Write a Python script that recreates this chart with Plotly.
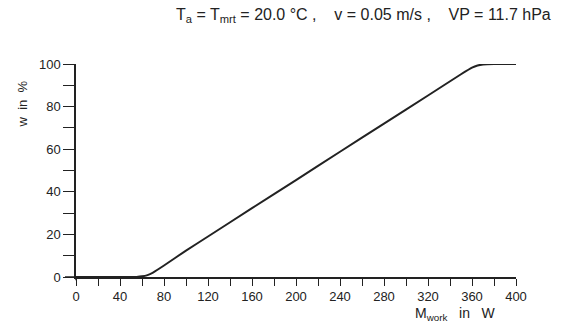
import plotly.graph_objects as go

m_work = [0, 20, 40, 55, 60, 65, 70, 80, 100, 120, 160, 200, 240, 280, 320, 350, 360, 365, 370, 380, 400]
w_pct = [0, 0, 0, 0.05, 0.3, 0.9, 2.1, 5.4, 12.4, 19.0, 32.3, 45.5, 58.8, 72.0, 85.2, 95.2, 98.3, 99.3, 99.8, 100, 100]

x_ticks = [0, 40, 80, 120, 160, 200, 240, 280, 320, 360, 400]
y_ticks = [0, 20, 40, 60, 80, 100]

fig = go.Figure()
fig.add_trace(go.Scatter(x=m_work, y=w_pct, mode="lines",
                         line=dict(color="#222222", width=2, shape="spline", smoothing=0.4),
                         showlegend=False, hoverinfo="skip"))

font = dict(family="Liberation Sans, DejaVu Sans, sans-serif", color="#222222")

fig.update_layout(
    width=564, height=324,
    margin=dict(l=76, r=48, t=64, b=47),
    plot_bgcolor="white", paper_bgcolor="white",
    font=dict(**font, size=13),
    xaxis=dict(range=[0, 400], tickvals=x_ticks, ticktext=[str(v) for v in x_ticks],
               showgrid=False, zeroline=False, showline=True, linecolor="#222222", linewidth=1.5,
               ticks="outside", ticklen=7, tickwidth=1.2, tickcolor="#222222",
               minor=dict(dtick=20, tick0=0, ticks="outside", ticklen=7, tickwidth=1.2, tickcolor="#222222"),
               tickfont=dict(size=13)),
    yaxis=dict(range=[0, 100], tickvals=y_ticks, ticktext=[str(v) for v in y_ticks],
               showgrid=False, zeroline=False, showline=True, linecolor="#222222", linewidth=1.5,
               ticks="outside", ticklen=11, tickwidth=1.2, tickcolor="#222222",
               minor=dict(dtick=10, tick0=0, ticks="outside", ticklen=11, tickwidth=1.2, tickcolor="#222222"),
               tickfont=dict(size=13)),
    shapes=[
        dict(type="line", xref="paper", yref="paper", x0=-0.025, x1=0, y0=0, y1=0,
             line=dict(color="#222222", width=1.5)),
        dict(type="line", xref="paper", yref="paper", x0=0, x1=0, y0=-0.015, y1=0,
             line=dict(color="#222222", width=1.5)),
    ],
    annotations=[
        dict(text="T<sub>a</sub> = T<sub>mrt</sub> = 20.0 °C ,    v = 0.05 m/s ,    VP = 11.7 hPa",
             xref="paper", yref="paper", x=1.085, y=1.0, yshift=49, xanchor="right", yanchor="middle",
             showarrow=False, font=dict(size=16)),
        dict(text="w  in  %", xref="paper", yref="paper", x=0, xshift=-54, y=0.81, textangle=-90,
             xanchor="center", yanchor="middle", showarrow=False, font=dict(size=13)),
        dict(text="M<sub>work</sub>   in   W", xref="paper", yref="paper", x=0.765, y=0, yshift=-37,
             xanchor="left", yanchor="middle", showarrow=False, font=dict(size=14)),
    ],
)

fig.write_html("out.html")
